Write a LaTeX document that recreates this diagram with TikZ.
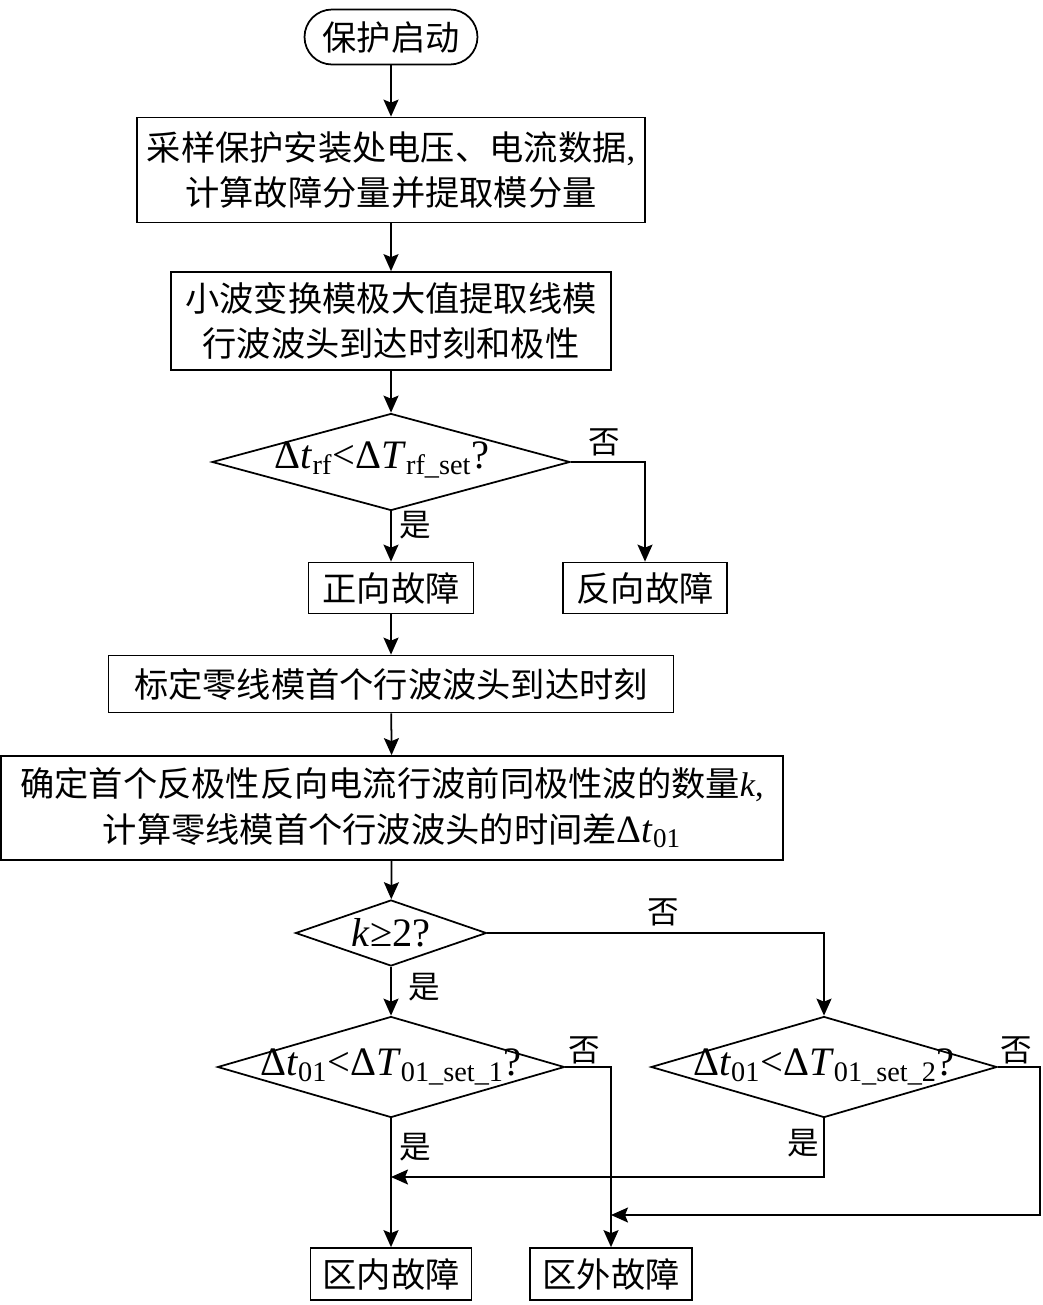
\documentclass[tikz,border=0pt]{standalone}
\usepackage{fontspec}
\setmainfont{Liberation Serif}
\newfontfamily\cjk{Noto Sans CJK SC}
\usetikzlibrary{shapes.geometric,arrows.meta}

\newcommand\dt[1]{{\rmfamily Δ\textit{t}\textsubscript{#1}}}
\newcommand\dT[1]{{\rmfamily Δ\textit{T}\textsubscript{#1}}}

\tikzset{
  box/.style={draw, line width=1pt, inner sep=0pt, align=center,
    font=\fontsize{19.5}{26}\selectfont\cjk},
  cond/.style={draw, diamond, line width=1pt, inner sep=0pt},
  condtext/.style={font=\fontsize{23}{26}\selectfont\rmfamily},
  lbl/.style={font=\fontsize{18}{18}\selectfont\cjk},
  arr/.style={line width=1pt, -{Stealth[length=3.4mm,width=3mm,inset=0.6mm]}}
}

\begin{document}
\begin{tikzpicture}[x=0.02cm,y=-0.02cm]
    \useasboundingbox (0,0) rectangle (1043,1305);

    % main column
    \node[box, rounded corners=0.55cm, minimum width=3.46cm, minimum height=1.1cm] (start) at (391,37) {保护启动};
    \node[box, minimum width=10.16cm, minimum height=2.1cm] (sample) at (391,170) {采样保护安装处电压、电流数据{\rmfamily ,}\\计算故障分量并提取模分量};
    \node[box, minimum width=8.8cm, minimum height=1.96cm] (wavelet) at (391,321) {小波变换模极大值提取线模\\行波波头到达时刻和极性};

    \node[cond, minimum width=7.16cm, minimum height=1.94cm] (dir) at (391,462) {};
    \node[condtext] (dirtxt) at (382,460) {\dt{rf}<\dT{rf\_set}?};

    \node[box, minimum width=3.3cm, minimum height=1.02cm] (fwd) at (391,588) {正向故障};
    \node[box, minimum width=3.28cm, minimum height=1.02cm] (rev) at (645,588) {反向故障};

    \node[box, minimum width=11.3cm, minimum height=1.14cm] (mark) at (391,684) {标定零线模首个行波波头到达时刻};
    \node[box, minimum width=15.64cm, minimum height=2.08cm] (count) at (392,808) {确定首个反极性反向电流行波前同极性波的数量{\rmfamily\textit{k},}\\计算零线模首个行波波头的时间差{\fontsize{22}{26}\selectfont\dt{01}}};

    \node[cond, minimum width=3.82cm, minimum height=1.32cm] (kchk) at (391,933) {};
    \node[condtext] (kchktxt) at (kchk) {\textit{k}≥2?};

    \node[cond, minimum width=6.94cm, minimum height=2.02cm] (near) at (391,1067) {};
    \node[condtext] (neartxt) at (near) {\dt{01}<\dT{01\_set\_1}?};
    \node[cond, minimum width=6.92cm, minimum height=2.02cm] (far) at (824,1067) {};
    \node[condtext] (fartxt) at (far) {\dt{01}<\dT{01\_set\_2}?};

    \node[box, minimum width=3.22cm, minimum height=1.04cm] (inzone) at (391,1274) {区内故障};
    \node[box, minimum width=3.24cm, minimum height=1.04cm] (outzone) at (611,1274) {区外故障};

    % connectors
    \draw[arr] (start) -- (sample);
    \draw[arr] (sample) -- (wavelet);
    \draw[arr] (wavelet) -- (dir);
    \draw[arr] (dir) -- (fwd);
    \draw[arr] (dir.east) -| (rev);
    \draw[arr] (fwd) -- (mark);
    \draw[arr] (mark) -- (count);
    \draw[arr] (count) -- (kchk);
    \draw[arr] (kchk) -- (near);
    \draw[arr] (kchk.east) -| (far);
    \draw[arr] (near) -- (inzone);
    \draw[arr] (near.east) -| (outzone);

    \coordinate (inmerge) at (391,1177);
    \coordinate (outmerge) at (611,1215);
    \coordinate (farturn) at (1040,1215);
    \draw[arr] (far.south) |- (inmerge);
    \draw[arr] (far.east) -| (farturn) -- (outmerge);

    % labels
    \node[lbl] (dirno) at (604,442) {否};
    \node[lbl] (diryes) at (415,525) {是};
    \node[lbl] (kno) at (663,912) {否};
    \node[lbl] (kyes) at (424,987) {是};
    \node[lbl] (nearno) at (584,1050) {否};
    \node[lbl] (nearyes) at (415,1147) {是};
    \node[lbl] (farno) at (1016,1050) {否};
    \node[lbl] (faryes) at (803,1143) {是};
\end{tikzpicture}
\end{document}
